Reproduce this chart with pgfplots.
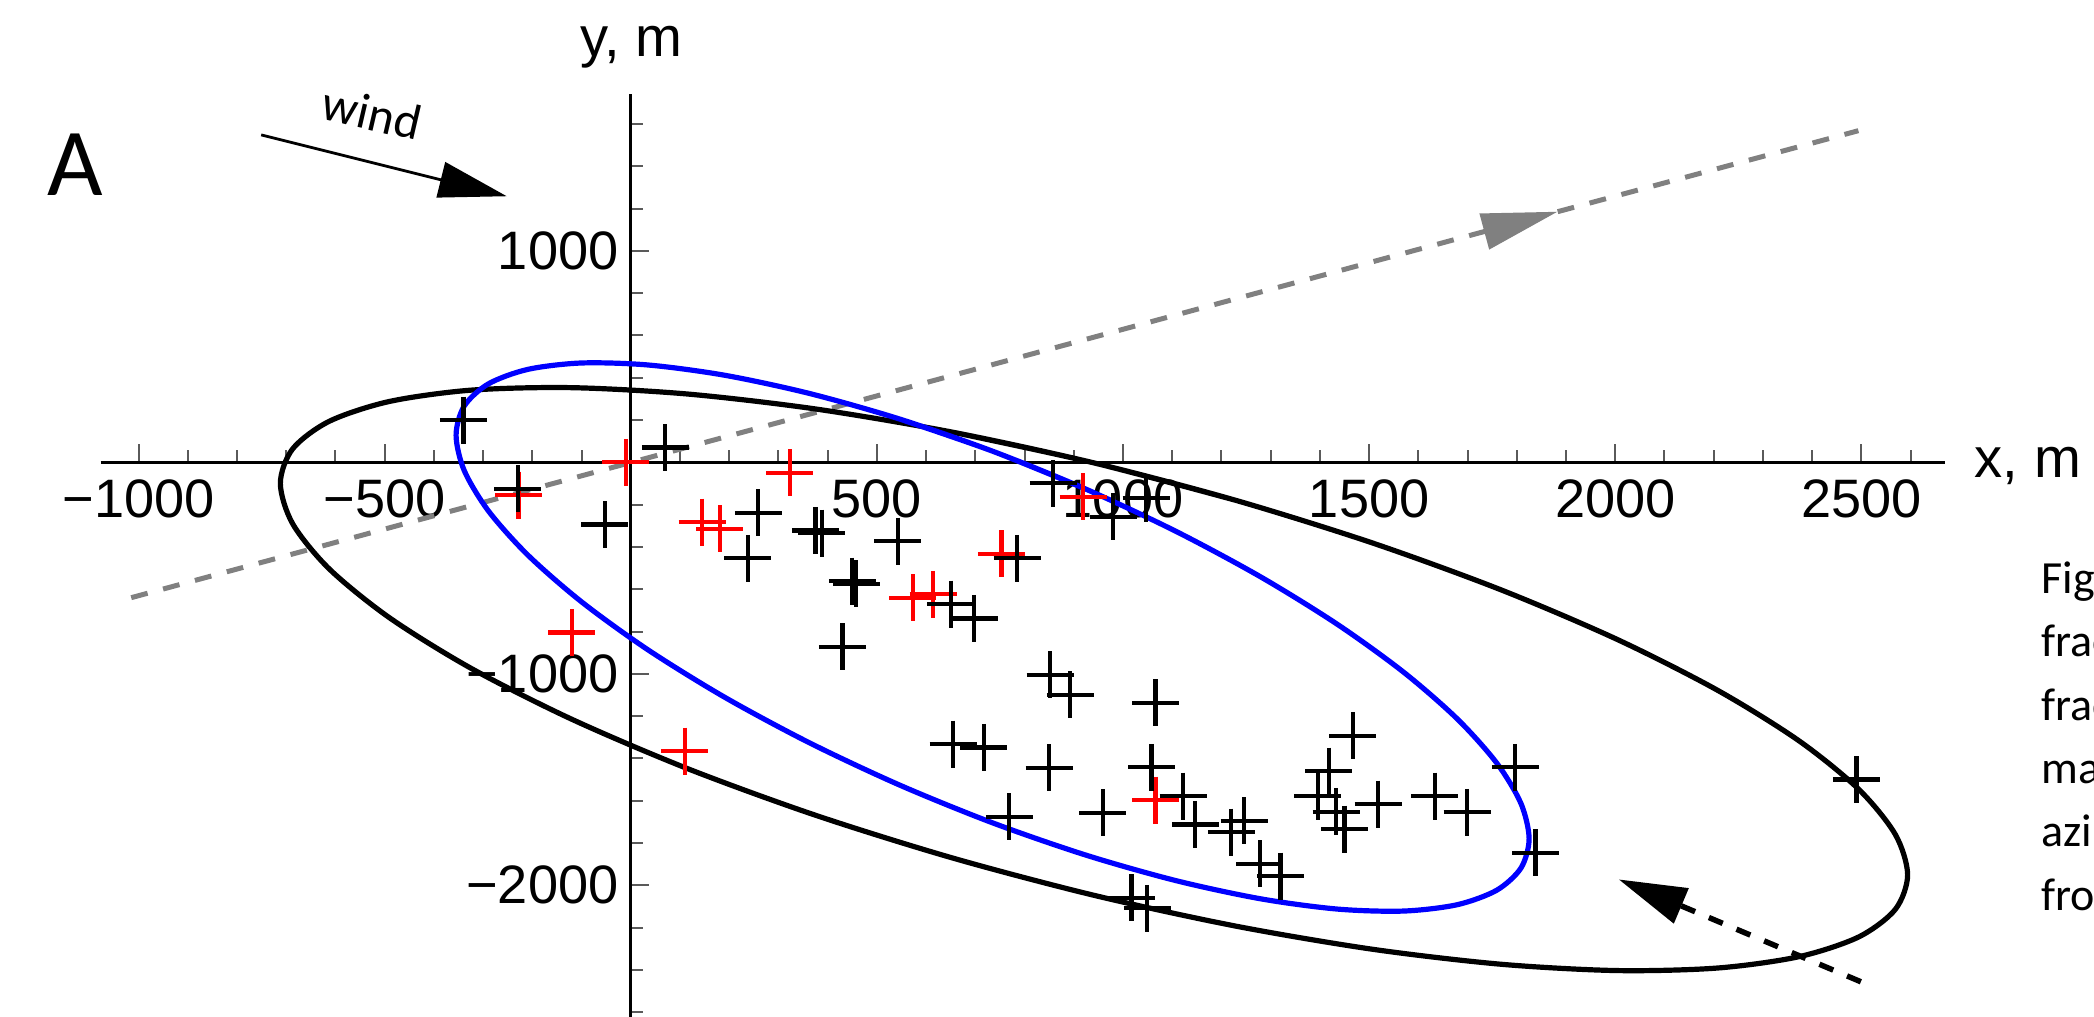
\documentclass[border=0pt]{standalone}
\usepackage{pgfplots}
\pgfplotsset{compat=1.18}
\usepackage{fontspec}
\setmainfont{Liberation Sans}
\newfontfamily\calibri{Carlito}
\usetikzlibrary{arrows.meta}
\definecolor{mgray}{RGB}{128,128,128}
\definecolor{tickgray}{RGB}{90,90,90}
\begin{document}
\begin{tikzpicture}
\useasboundingbox (0,0) rectangle (209.4mm,101.6mm);
\begin{axis}[
  at={(10.07mm,-0.68mm)}, anchor=south west,
  scale only axis, width=184.43mm, height=92.87mm,
  xmin=-1077, xmax=2670, ymin=-2650, ymax=1741,
  axis lines=middle,
  axis line style={-, black, line width=0.33mm},
  xtick={-1000,-500,500,1000,1500,2000,2500},
  xticklabels={−1000,−500,500,1000,1500,2000,2500},
  ytick={-2000,-1000,1000},
  yticklabels={−2000,−1000,1000},
  minor xtick={-1000,-900,...,2600},
  minor ytick={-2600,-2400,...,1600},
  tick align=inside,
  major tick length=1.8mm, minor tick length=1.2mm,
  tick style={line width=0.2mm, color=tickgray},
  tick label style={font=\fontsize{15.4}{18}\selectfont},
  xticklabel style={yshift=-0.5mm},
]
% gray dashed direction line with arrow
\addplot[mgray, mark=none, line width=0.5mm, dash pattern=on 1.7mm off 1.6mm,
  -{Triangle[length=7.6mm,width=3.6mm]}] coordinates {(-1015,-640) (1883,1185)};
\addplot[mgray, mark=none, line width=0.5mm, dash pattern=on 1.7mm off 1.6mm]
  coordinates {(1883,1185) (2494,1568)};
% black ellipse
\addplot[black, mark=none, line width=0.52mm, smooth] coordinates {
(1228.04,-179.06) (941,-2.8) (653.96,142.4) (375.64,252.12) (114.5,323.06)
(-121.53,353.02) (-325.26,341.11) (-490.55,287.7) (-612.31,194.39) (-686.89,64.05)
(-712,-99.4) (-686.89,-290.97) (-612.31,-504.83) (-490.55,-734.5) (-325.26,-973.01)
(-121.53,-1213.08) (114.5,-1447.46) (375.64,-1668.98) (653.96,-1870.94) (941,-2047.2)
(1228.04,-2192.4) (1506.36,-2302.12) (1767.5,-2373.06) (2003.53,-2403.02) (2207.26,-2391.11)
(2372.55,-2337.7) (2494.31,-2244.39) (2568.89,-2114.05) (2594,-1950.6) (2568.89,-1759.03)
(2494.31,-1545.17) (2372.55,-1315.5) (2207.26,-1076.99) (2003.53,-836.92) (1767.5,-602.54)
(1506.36,-381.02) (1228.04,-179.06) (941,-2.8) (653.96,142.4)};
% blue ellipse
\addplot[blue, mark=none, line width=0.52mm, smooth] coordinates {
(924.28,-126.43) (735,52.6) (545.72,204.93) (362.20,325.93) (190,411.94)
(34.36,460.33) (-99.98,469.64) (-208.97,439.58) (-289.26,371.06) (-338.44,266.18)
(-355,128.1) (-338.44,-38.96) (-289.26,-229.94) (-208.97,-439.02) (-99.98,-659.88)
(34.36,-885.75) (190,-1109.84) (362.20,-1325.29) (545.72,-1525.57) (735,-1704.6)
(924.28,-1856.93) (1107.80,-1977.93) (1280,-2063.94) (1435.64,-2112.33) (1569.98,-2121.64)
(1678.97,-2091.58) (1759.26,-2023.06) (1808.44,-1918.18) (1825,-1780.1) (1808.44,-1613.04)
(1759.26,-1422.06) (1678.97,-1212.98) (1569.98,-992.12) (1435.64,-766.25) (1280,-542.16)
(1107.80,-326.71) (924.28,-126.43) (735,52.6) (545.72,204.93)};
% red points
\addplot[only marks, mark=+, mark size=2.35mm, red, line width=0.42mm] coordinates {
(-228,-155) (-120,-805) (110,-1365) (-10,0) (323,-49) (145,-283) (181,-314)
(573,-640) (614,-624) (753,-433) (919,-163) (1066,-1597)};
% black points
\addplot[only marks, mark=+, mark size=2.35mm, black, line width=0.42mm] coordinates {
(-340,200) (-230,-125) (-53,-294) (70,70) (259,-238) (238,-454) (375,-322) (388,-335)
(542,-373) (450,-562) (458,-575) (650,-671) (698,-738) (430,-873) (785,-454)
(858,-99) (980,-257) (1047,-170) (852,-1005) (893,-1100) (655,-1332) (717,-1348)
(850,-1444) (769,-1676) (1066,-1137) (1058,-1442) (959,-1657) (1122,-1578)
(1147,-1712) (1220,-1749) (1246,-1695) (1278,-1899) (1320,-1956) (1017,-2059)
(1049,-2109) (1467,-1293) (1418,-1460) (1396,-1578) (1433,-1652) (1450,-1734)
(1518,-1616) (1633,-1578) (1699,-1655) (1797,-1442) (1838,-1846) (2490,-1500)};
% black dotted arrow
\addplot[black, mark=none, line width=0.55mm, dash pattern=on 1.5mm off 1.5mm,
  -{Triangle[length=6.8mm,width=3.7mm]}] coordinates {(2499,-2456) (2007,-1972)};
% wind arrow
\addplot[black, mark=none, line width=0.28mm,
  -{Triangle[length=6.8mm,width=3.6mm]}] coordinates {(-751,1548) (-252,1258)};
\end{axis}
\begin{scope}[x=0.1mm,y=0.1mm]
\node[anchor=base west, inner sep=0, font=\fontsize{16}{19}\selectfont] at (1974,538) {x, m};
\node[anchor=base west, inner sep=0, font=\fontsize{16}{19}\selectfont] at (580,959) {y, m};
\node[anchor=base west, inner sep=0, font=\calibri\fontsize{27.3}{32}\selectfont] at (47,820) {A};
\node[rotate=-13, inner sep=0, font=\calibri\fontsize{14.2}{16}\selectfont] at (372,903) {wind};
\begin{scope}[every node/.style={anchor=base west, inner sep=0, font=\calibri\fontsize{13.1}{15}\selectfont}]
\node at (2040.7,422.7) {Figure};
\node at (2040.7,359.3) {fractions};
\node at (2040.7,296) {fraction};
\node at (2040.7,232.7) {map};
\node at (2040.7,169.3) {azimuth};
\node at (2040.7,106) {from};
\end{scope}
\end{scope}
\end{tikzpicture}
\end{document}
